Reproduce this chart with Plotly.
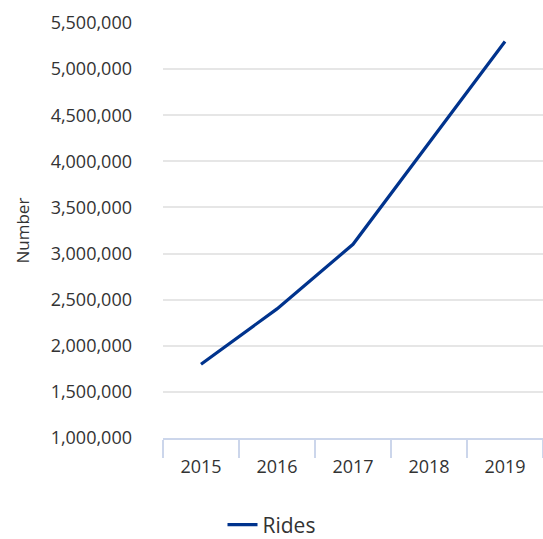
import plotly.graph_objects as go

# Annual ride counts
years = ["2015", "2016", "2017", "2018", "2019"]
rides = [1800000, 2400000, 3100000, 4200000, 5300000]
y_ticks = [1000000, 1500000, 2000000, 2500000, 3000000, 3500000,
           4000000, 4500000, 5000000, 5500000]

fig = go.Figure()
fig.add_trace(go.Scatter(
    x=years, y=rides, name="Rides", mode="lines",
    line=dict(color="#00338d", width=3.2),
    showlegend=True,
))

fig.update_layout(
    width=543, height=539,
    margin=dict(l=163, r=0, t=23, b=101),
    paper_bgcolor="white", plot_bgcolor="white",
    font=dict(family="Open Sans", color="#333333", size=18),
    showlegend=True,
    legend=dict(
        orientation="h", xref="container", yref="container",
        x=0.5, xanchor="center", y=0.026, yanchor="middle",
        font=dict(size=21, color="#333333"),
    ),
    xaxis=dict(
        type="category", range=[-0.5, 4.5], autorange=False,
        showgrid=False, showline=True,
        linecolor="#ccd6eb", linewidth=2,
        ticks="outside", tickson="boundaries", ticklen=18,
        tickcolor="#ccd6eb", tickwidth=2,
        tickfont=dict(size=18, color="#333333"), ticklabelstandoff=11,
        zeroline=False, fixedrange=True, automargin=False,
    ),
    yaxis=dict(
        range=[1000000, 5500000], tickvals=y_ticks, tickformat=",",
        showgrid=True, gridcolor="#e6e6e6", gridwidth=1.5,
        showline=False, zeroline=False, ticklabelstandoff=30,
        tickfont=dict(size=18, color="#333333"), automargin=False,
    ),
    annotations=[dict(
        text="Number", textangle=-90, xref="paper", yref="paper",
        x=-0.371, y=0.5, xanchor="center", yanchor="middle",
        showarrow=False, font=dict(size=17, color="#333333"),
    )],
)

fig.write_html("out.html")
